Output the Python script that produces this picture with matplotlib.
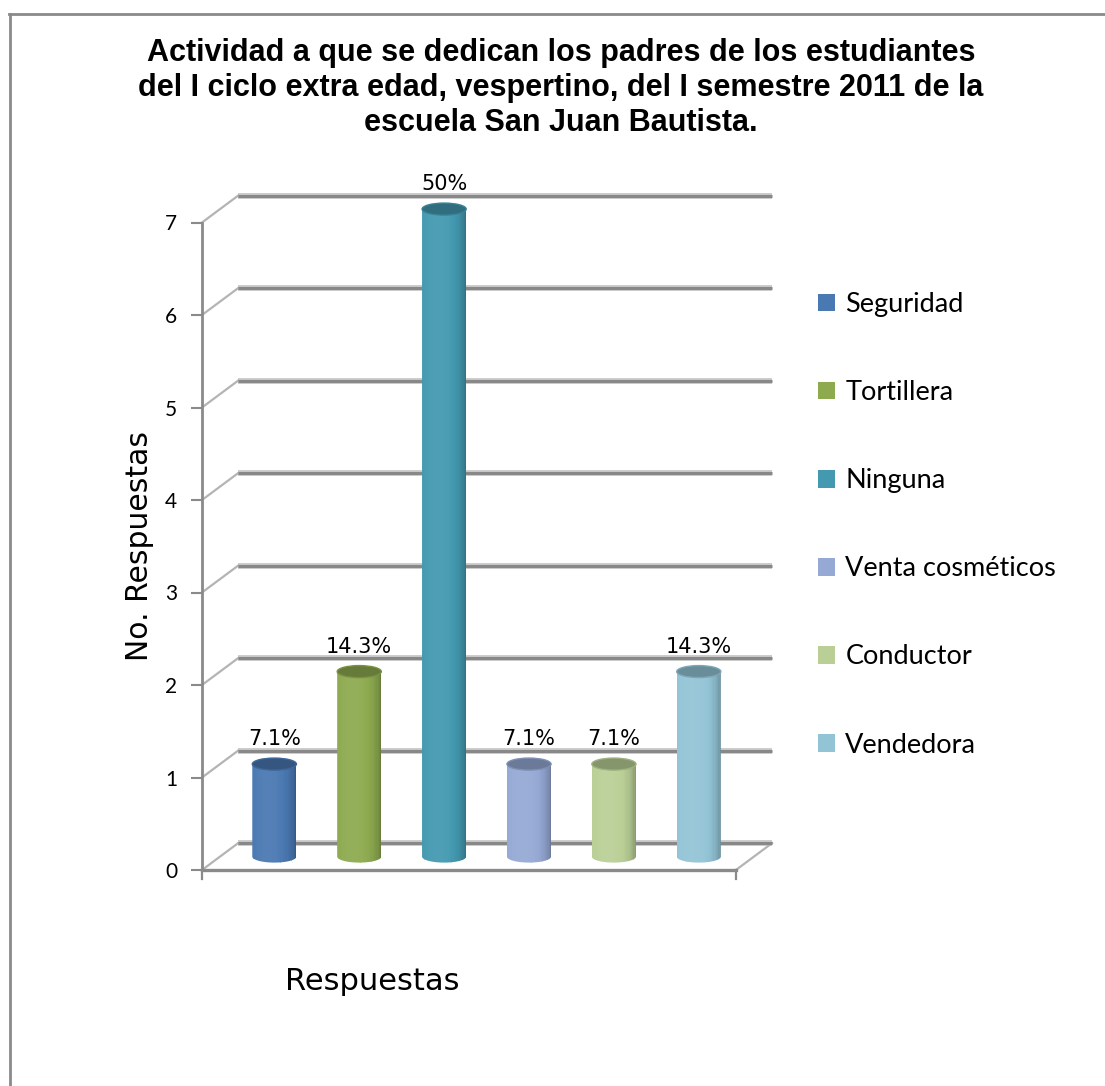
import numpy as np
import matplotlib
matplotlib.use("Agg")
import matplotlib.pyplot as plt
from matplotlib.patches import Ellipse, Patch, PathPatch
from matplotlib.path import Path
from matplotlib.lines import Line2D
from matplotlib.colors import to_rgb

# data
categorias = ["Seguridad", "Tortillera", "Ninguna", "Venta cosméticos", "Conductor", "Vendedora"]
respuestas = [1, 2, 7, 1, 1, 2]
porcentajes = ["7.1%", "14.3%", "50%", "7.1%", "7.1%", "14.3%"]
colores = ["#4a78b2", "#8daa4f", "#4399b0", "#95a9d4", "#b9cf96", "#93c4d6"]
y_ticks = [0, 1, 2, 3, 4, 5, 6, 7]

titulo = ("Actividad a que se dedican los padres de los estudiantes\n"
          "del I ciclo extra edad, vespertino, del I semestre 2011 de la\n"
          "escuela San Juan Bautista.")

# pseudo 3d geometry (depth offset in data units)
XLO, XHI = -0.64, 5.65
DX, DY = 0.425, 0.29
W = 0.52     # cylinder width
EH = 0.13    # ellipse height
YTOP = 7.3

W_PX, H_PX = 1105, 1086
fig = plt.figure(figsize=(W_PX / 100, H_PX / 100), dpi=100)
ax = fig.add_axes([202 / W_PX, (H_PX - 870) / H_PX, 570 / W_PX, 675.25 / H_PX])
ax.set_xlim(XLO, XHI + DX)
ax.set_ylim(0, YTOP)

# back wall gridlines + side wall lines
for v in y_ticks:
    ax.plot([XLO + DX, XHI + DX], [v + DY, v + DY], color="#c9c9c9", lw=4.2,
            solid_capstyle="butt", zorder=1, clip_on=False)
    ax.plot([XLO + DX, XHI + DX], [v + DY, v + DY], color="#888888", lw=2.2,
            solid_capstyle="butt", zorder=1.1, clip_on=False)
    ax.plot([XLO, XLO + DX], [v, v + DY], color="#b4b4b4", lw=1.6, zorder=1, clip_on=False)

# floor edges
ax.plot([XLO, XHI], [0, 0], color="#8a8a8a", lw=2.4, zorder=1.2, clip_on=False)
ax.plot([XHI, XHI + DX], [0, DY], color="#b4b4b4", lw=1.6, zorder=1, clip_on=False)
ax.plot([XHI, XHI], [0, -0.1], color="#8a8a8a", lw=1.6, zorder=1, clip_on=False)
ax.plot([XLO, XLO], [0, -0.1], color="#8a8a8a", lw=1.6, zorder=1, clip_on=False)


def shade(c, f):
    c = np.array(to_rgb(c))
    if f >= 1:
        return tuple(c + (f - 1) * (1 - c))
    return tuple(c * f)


n_strips = 36
u = np.linspace(-1, 1, n_strips + 1)
u = (u[:-1] + u[1:]) / 2
prof = 0.66 + 0.4 * np.sqrt(np.clip(1 - ((u + 0.3) / 1.3) ** 2, 0, 1))

for i, (val, col) in enumerate(zip(respuestas, colores)):
    xc = i + DX / 2
    base = DY / 2
    top = val + base
    # silhouette: bottom half ellipse + straight sides
    t = np.linspace(np.pi, 2 * np.pi, 40)
    pts = np.column_stack([xc + W / 2 * np.cos(t), base + EH / 2 * np.sin(t)])
    pts = np.vstack([pts, [xc + W / 2, top], [xc - W / 2, top], pts[:1]])
    sil = PathPatch(Path(pts), facecolor="none", edgecolor="none", transform=ax.transData)
    ax.add_patch(sil)
    xs = xc - W / 2 + (u + 1) / 2 * W
    strips = ax.bar(xs, top - base + EH, width=W / n_strips * 1.05, bottom=base - EH / 2,
                    color=[shade(col, f) for f in prof], linewidth=0, zorder=3)
    for s in strips:
        s.set_clip_path(sil)
    ax.add_patch(Ellipse((xc, top), W, EH, facecolor=shade(col, 0.72),
                         edgecolor=shade(col, 0.85), lw=1, zorder=4))
    ax.text(xc, top + 0.27, porcentajes[i], ha="center", va="center",
            fontsize=15, family="DejaVu Sans", color="black", zorder=5)

# axes styling
for side in ["top", "right", "bottom"]:
    ax.spines[side].set_visible(False)
ax.spines["left"].set_bounds(0, 7)
ax.spines["left"].set_color("#8a8a8a")
ax.spines["left"].set_linewidth(2)
ax.set_yticks(y_ticks)
ax.set_yticklabels([str(v) for v in y_ticks], family="Lato", fontsize=15)
ax.tick_params(axis="y", length=8, width=1.5, color="#8a8a8a", pad=10)
ax.set_xticks([])

fig.text(140 / W_PX, 1 - 546 / H_PX, "No. Respuestas", rotation=90, ha="center", va="center",
         fontsize=21.5, family="DejaVu Sans")
fig.text(372 / W_PX, 1 - 981 / H_PX, "Respuestas", ha="center", va="center",
         fontsize=22, family="DejaVu Sans")
fig.text(561 / W_PX, 1 - 88 / H_PX, titulo, ha="center", va="center", fontsize=22,
         fontweight="bold", family="Liberation Sans", linespacing=1.2)

handles = [Patch(facecolor=c, edgecolor="none") for c in colores]
fig.legend(handles, categorias, loc="upper left", bbox_to_anchor=(818 / W_PX, 1 - 292 / H_PX),
           frameon=False, prop={"family": "Lato", "size": 19.5}, handlelength=0.63,
           handleheight=0.63, handletextpad=0.38, labelspacing=2.33, borderpad=0,
           borderaxespad=0)

# outer chart border
fig.add_artist(Line2D([9 / W_PX, 1], [1 - 13.5 / H_PX] * 2, transform=fig.transFigure,
                      color="#8a8a8a", lw=2))
fig.add_artist(Line2D([9.5 / W_PX] * 2, [0, 1 - 13.5 / H_PX], transform=fig.transFigure,
                      color="#8a8a8a", lw=2))

fig.savefig("out.png", dpi=100)
